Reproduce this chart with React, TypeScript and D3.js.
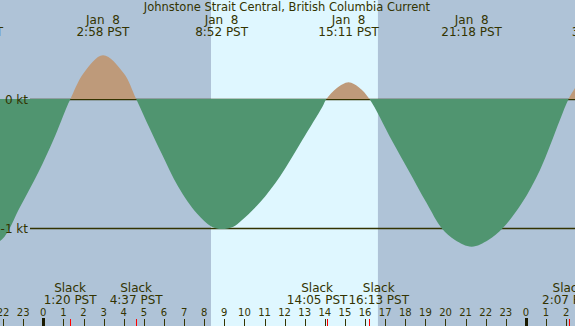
import React, { useEffect, useRef } from "react";
import * as d3 from "d3";

// current samples: hours from Jan 8 00:00 PST, knots
const hours = [-3.0, -2.06, -1.15, -0.25, 0.5, 1.2, 1.35, 2.0, 2.97, 4.0, 4.62, 5.31, 5.89, 6.71, 7.63, 8.37, 8.87, 9.45, 9.87, 10.78, 11.77, 12.88, 13.88, 14.08, 14.6, 15.18, 15.7, 16.22, 17.32, 18.15, 19.07, 19.81, 20.47, 21.3, 22.13, 22.84, 23.79, 24.7, 25.69, 26.12, 26.5, 27.0];
const knots = [-1.16, -1.09, -0.835, -0.57, -0.318, -0.05, 0, 0.2, 0.34, 0.2, 0, -0.235, -0.425, -0.68, -0.886, -0.99, -1.008, -0.99, -0.94, -0.8, -0.6, -0.318, -0.06, 0, 0.085, 0.13, 0.09, 0, -0.318, -0.55, -0.809, -1.002, -1.093, -1.145, -1.093, -1.002, -0.809, -0.55, -0.163, 0, 0.1, 0.2];

// max / min current events (top labels)
const peakHours = [-3.51, 2.967, 8.867, 15.183, 21.3, 27.6];
const peakDates = ["Jan  7", "Jan  8", "Jan  8", "Jan  8", "Jan  8", "Jan  9"];
const peakTimes = ["20:29 PST", "2:58 PST", "8:52 PST", "15:11 PST", "21:18 PST", "3:36 PST"];

// slack events (bottom labels)
const slackHours = [1.333, 4.617, 14.083, 16.217, 26.117];
const slackTimes = ["1:20 PST", "4:37 PST", "14:05 PST", "16:13 PST", "2:07 PST"];

const daylight = [8.34, 16.64];
const levels = [0, -1];
const levelLabels = ["0 kt", "-1 kt"];

const title = "Johnstone Strait Central, British Columbia Current";

// push neighbouring labels apart so they don't overlap
const spread = (centers, widths) => {
  const out = centers.slice();
  for (let i = 1; i < out.length; i++) {
    const need = (widths[i - 1] + widths[i]) / 2 + 1;
    const gap = out[i] - out[i - 1];
    if (gap < need) {
      const d = (need - gap) / 2;
      out[i - 1] -= d;
      out[i] += d;
    }
  }
  return out;
};

const App = () => {
  const ref = useRef(null);

  useEffect(() => {
    const width = 575;
    const height = 326;
    const svg = d3.select(ref.current);
    svg.selectAll("*").remove();

    const font = "DejaVu Sans";
    const ink = "#333300";

    const x = d3.scaleLinear().domain([-2.153, 26.44]).range([0, width]);
    const y = d3.scaleLinear().domain([0, -1]).range([99, 228]);

    // night / day background
    svg.append("rect").attr("width", width).attr("height", height).style("fill", "#afc3d7");
    svg
      .append("rect")
      .attr("x", x(daylight[0]))
      .attr("width", x(daylight[1]) - x(daylight[0]))
      .attr("height", height)
      .style("fill", "#dff7ff");

    // level lines
    levels.forEach((lv) => {
      svg
        .append("line")
        .attr("x1", 30)
        .attr("x2", width)
        .attr("y1", Math.round(y(lv)) + 0.5)
        .attr("y2", Math.round(y(lv)) + 0.5)
        .style("stroke", ink)
        .style("stroke-width", 1.3);
    });

    const data = hours.map((h, i) => ({ h, v: knots[i] }));
    const area = d3
      .area()
      .curve(d3.curveCatmullRom.alpha(0.5))
      .x((d) => x(d.h))
      .y0(y(0))
      .y1((d) => y(d.v));

    const defs = svg.append("defs");
    defs
      .append("clipPath")
      .attr("id", "flood")
      .append("rect")
      .attr("width", width)
      .attr("height", Math.round(y(0)));
    defs
      .append("clipPath")
      .attr("id", "ebb")
      .append("rect")
      .attr("y", Math.round(y(0)))
      .attr("width", width)
      .attr("height", height);

    svg.append("path").datum(data).attr("d", area).attr("clip-path", "url(#flood)").style("fill", "#be9a7a");
    svg.append("path").datum(data).attr("d", area).attr("clip-path", "url(#ebb)").style("fill", "#509570");

    const label = (g, tx, ty, s, size = "12px") =>
      g
        .append("text")
        .attr("x", tx)
        .attr("y", ty)
        .attr("xml:space", "preserve")
        .style("white-space", "pre")
        .style("font-family", font)
        .style("font-size", size)
        .style("fill", ink)
        .style("text-anchor", "middle")
        .text(s);

    // level labels
    levels.forEach((lv, i) => {
      label(svg, 28, y(lv) + 4.5, levelLabels[i]).style("text-anchor", "end");
    });

    // title
    label(svg, 287, 11, title, "11.5px");

    // peak labels
    peakHours.forEach((h, i) => {
      label(svg, x(h), 24, peakDates[i]);
      label(svg, x(h), 36, peakTimes[i]);
    });

    // slack labels, spread apart when they collide
    const slackGroup = svg.append("g");
    const timeNodes = slackHours.map((h, i) => label(slackGroup, x(h), 304, slackTimes[i]));
    const widths = timeNodes.map((n) => n.node().getComputedTextLength());
    const cx = spread(slackHours.map((h) => x(h)), widths);
    timeNodes.forEach((n, i) => {
      n.attr("x", cx[i]);
      label(slackGroup, cx[i], 291.5, "Slack");
    });

    // hour ticks
    const ticks = d3.range(-2, 27);
    ticks.forEach((h) => {
      const hx = Math.round(x(h));
      const midnight = h % 24 === 0;
      svg
        .append("rect")
        .attr("x", midnight ? hx - 1 : hx)
        .attr("y", midnight ? 318 : 319)
        .attr("width", midnight ? 3 : 1)
        .attr("height", midnight ? 8 : 7)
        .style("fill", midnight ? "#1a1a00" : ink);
      label(svg, x(h), 316, String(((h % 24) + 24) % 24), "10px");
    });

    slackHours.forEach((h) => {
      svg
        .append("rect")
        .attr("x", Math.round(x(h)))
        .attr("y", 319)
        .attr("width", 1)
        .attr("height", 7)
        .style("fill", "red");
    });
  }, []);

  return (
    <svg
      ref={ref}
      width={575}
      height={326}
      style={{ position: "fixed", left: 0, top: 0, display: "block" }}
    />
  );
};

export default App;
